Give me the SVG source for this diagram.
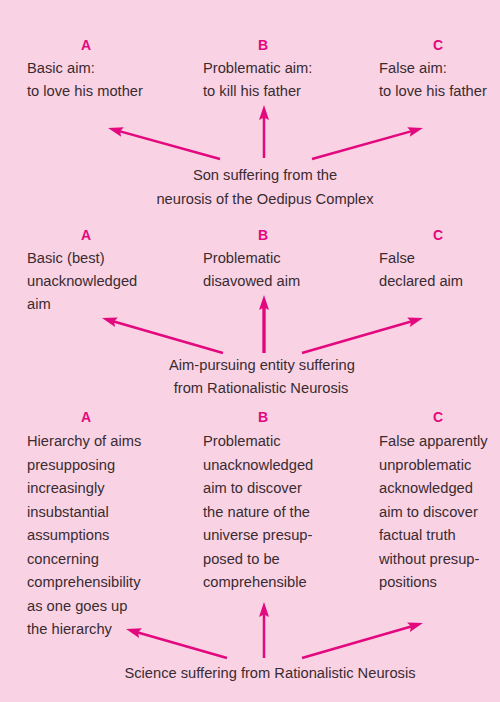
<svg xmlns="http://www.w3.org/2000/svg" width="500" height="702" viewBox="0 0 500 702">
<defs>
<style>
.t{font-family:"Liberation Sans",Arial,sans-serif;font-size:14.7px;fill:#3a2b32}
.c{text-anchor:middle}
.l{font-family:"Liberation Sans",Arial,sans-serif;font-size:14px;font-weight:bold;fill:#e4087f;text-anchor:middle}
.a{stroke:#e4087f;stroke-width:2.5;fill:none}
.a2{stroke:#e4087f;stroke-width:3.4;fill:none}
</style>
<marker id="ah" markerUnits="userSpaceOnUse" markerWidth="15" markerHeight="10" refX="9" refY="5" orient="auto">
<path d="M0,0 L15,5 L0,10 L2.5,5 z" fill="#e4087f"/>
</marker>
</defs>
<rect width="500" height="702" fill="#f9d3e3"/>

<g id="s1-A"><text class="l" x="86" y="50">A</text>
<text class="t" x="27" y="73">Basic aim:</text>
<text class="t" x="27" y="96">to love his mother</text></g>
<g id="s1-B"><text class="l" x="263" y="50">B</text>
<text class="t" x="203" y="73">Problematic aim:</text>
<text class="t" x="203" y="96">to kill his father</text></g>
<g id="s1-C"><text class="l" x="438" y="50">C</text>
<text class="t" x="379" y="73">False aim:</text>
<text class="t" x="379" y="96">to love his father</text></g>
<g id="s1-src"><text class="t c" x="265" y="180">Son suffering from the</text>
<text class="t c" x="265" y="204">neurosis of the Oedipus Complex</text></g>

<g id="s2-A"><text class="l" x="86" y="240">A</text>
<text class="t" x="27" y="263">Basic (best)</text>
<text class="t" x="27" y="286">unacknowledged</text>
<text class="t" x="27" y="309">aim</text></g>
<g id="s2-B"><text class="l" x="263" y="240">B</text>
<text class="t" x="203" y="263">Problematic</text>
<text class="t" x="203" y="286">disavowed aim</text></g>
<g id="s2-C"><text class="l" x="438" y="240">C</text>
<text class="t" x="379" y="263">False</text>
<text class="t" x="379" y="286">declared aim</text></g>
<g id="s2-src"><text class="t c" x="262" y="370">Aim-pursuing entity suffering</text>
<text class="t c" x="261" y="393">from Rationalistic Neurosis</text></g>

<g id="s3-A"><text class="l" x="86" y="422">A</text>
<text class="t" x="27" y="446">Hierarchy of aims</text>
<text class="t" x="27" y="469.5">presupposing</text>
<text class="t" x="27" y="493">increasingly</text>
<text class="t" x="27" y="516.5">insubstantial</text>
<text class="t" x="27" y="540">assumptions</text>
<text class="t" x="27" y="563.5">concerning</text>
<text class="t" x="27" y="587">comprehensibility</text>
<text class="t" x="27" y="610.5">as one goes up</text>
<text class="t" x="27" y="634">the hierarchy</text></g>
<g id="s3-B"><text class="l" x="263" y="422">B</text>
<text class="t" x="203" y="446">Problematic</text>
<text class="t" x="203" y="469.5">unacknowledged</text>
<text class="t" x="203" y="493">aim to discover</text>
<text class="t" x="203" y="516.5">the nature of the</text>
<text class="t" x="203" y="540">universe presup-</text>
<text class="t" x="203" y="563.5">posed to be</text>
<text class="t" x="203" y="587">comprehensible</text></g>
<g id="s3-C"><text class="l" x="438" y="422">C</text>
<text class="t" x="379" y="446">False apparently</text>
<text class="t" x="379" y="469.5">unproblematic</text>
<text class="t" x="379" y="493">acknowledged</text>
<text class="t" x="379" y="516.5">aim to discover</text>
<text class="t" x="379" y="540">factual truth</text>
<text class="t" x="379" y="563.5">without presup-</text>
<text class="t" x="379" y="587">positions</text></g>
<g id="s3-src"><text class="t c" x="270" y="678">Science suffering from Rationalistic Neurosis</text></g>

<g id="connectors">
<path class="a" d="M220,159 L113.8,129.6" marker-end="url(#ah)"/>
<path class="a" d="M264,158 L264,111" marker-end="url(#ah)"/>
<path class="a" d="M312,159 L417.2,129.6" marker-end="url(#ah)"/>
<path class="a" d="M223,353 L107.8,319.7" marker-end="url(#ah)"/>
<path class="a2" d="M264,353 L264,301" marker-end="url(#ah)"/>
<path class="a" d="M302,353 L417.2,319.7" marker-end="url(#ah)"/>
<path class="a" d="M227,658 L131.8,630.7" marker-end="url(#ah)"/>
<path class="a" d="M264,658 L264,608" marker-end="url(#ah)"/>
<path class="a" d="M302,658 L417.2,624.7" marker-end="url(#ah)"/>
</g>
</svg>
